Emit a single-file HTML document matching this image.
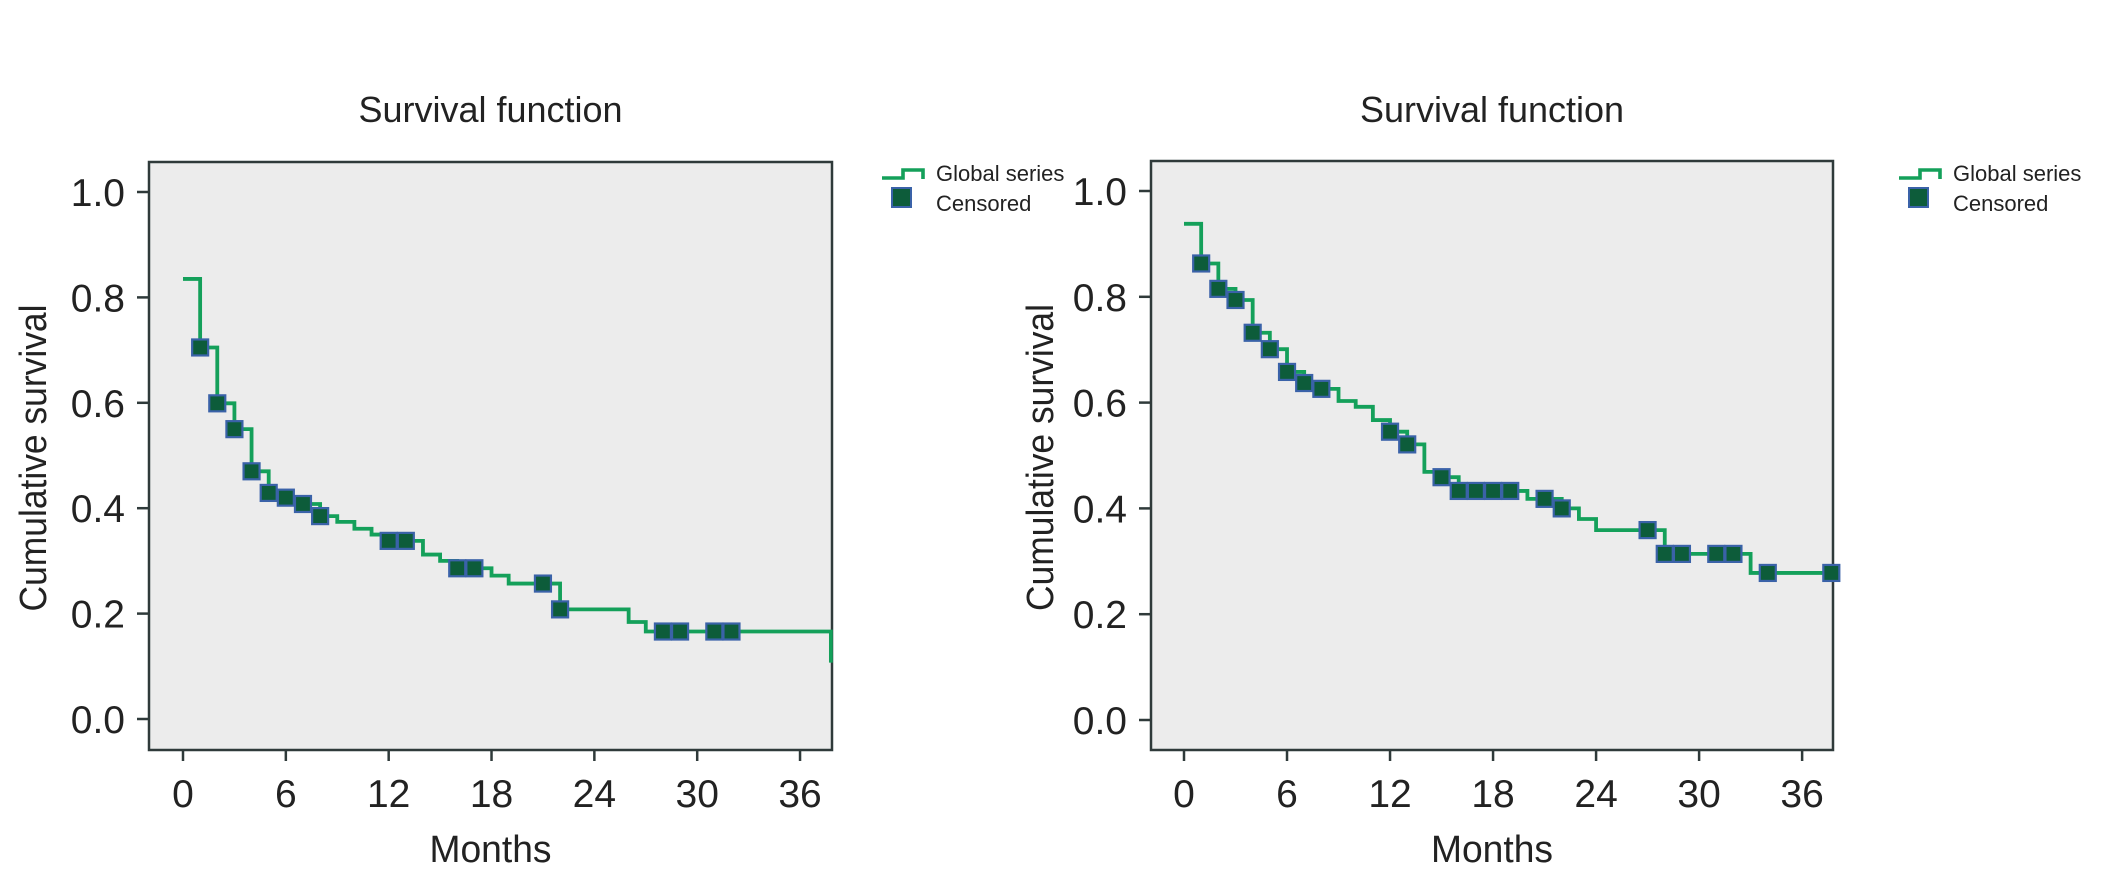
<!DOCTYPE html>
<html><head><meta charset="utf-8"><style>
html,body{margin:0;padding:0;background:#fff;}
svg{display:block;font-family:"Liberation Sans",sans-serif;}
</style></head><body>
<svg id="chart" width="2107" height="884" viewBox="0 0 2107 884" xmlns="http://www.w3.org/2000/svg"></svg>
<script>
// Left panel data
const leftStepTimes = [0,1,2,3,4,5,6,7,8,9,10,11,12,14,15,16,18,19,22,26,27,37.8];
const leftStepSurv  = [0.835,0.705,0.599,0.55,0.47,0.429,0.42,0.408,0.385,0.374,0.361,0.35,0.338,0.312,0.30,0.286,0.272,0.257,0.208,0.184,0.166,0.107];
const leftCensorTimes = [1,2,3,4,5,6,7,8,12,13,16,17,21,22,28,29,31,32];
// Right panel data
const rightStepTimes = [0,1,2,3,4,5,6,7,8,9,10,11,12,13,14,15,16,20,22,23,24,28,33];
const rightStepSurv  = [0.938,0.863,0.815,0.794,0.732,0.701,0.658,0.637,0.626,0.603,0.592,0.567,0.545,0.521,0.469,0.459,0.433,0.418,0.40,0.38,0.359,0.314,0.278];
const rightCensorTimes = [1,2,3,4,5,6,7,8,12,13,15,16,17,18,19,21,22,27,28,29,31,32,34,37.7];
const xTickLabels = ["0","6","12","18","24","30","36"];
const xTickValues = [0,6,12,18,24,30,36];
const yTickLabels = ["0.0","0.2","0.4","0.6","0.8","1.0"];
const yTickValues = [0,0.2,0.4,0.6,0.8,1.0];

const NS="http://www.w3.org/2000/svg";
const svg=document.getElementById('chart');
function mk(tag,attrs,parent){const e=document.createElementNS(NS,tag);for(const k in attrs)e.setAttribute(k,attrs[k]);(parent||svg).appendChild(e);return e;}

function survAt(times,surv,t){let s=surv[0];for(let i=0;i<times.length;i++){if(times[i]<=t)s=surv[i];}return s;}

function panel(cfg){
  const g=mk('g',{});
  
  
  const X=t=>cfg.x0+t*cfg.pxm;
  const Y=v=>cfg.y0-v*cfg.pxv;
  const bg=mk('rect',{x:cfg.fl,y:cfg.ft,width:cfg.fr-cfg.fl,height:cfg.fb-cfg.ft,fill:'#ececec',stroke:'#2f3a3a','stroke-width':2.5},g);
  
  
  const tt=mk('text',{x:(cfg.fl+cfg.fr)/2,y:122,'text-anchor':'middle','font-size':36,fill:'#222',textLength:264,lengthAdjust:'spacingAndGlyphs'},g);
  tt.textContent='Survival function';
  
  
  yTickValues.forEach((v,i)=>{
    const y=Y(v);
    const tk=mk('line',{x1:cfg.fl-12,x2:cfg.fl,y1:y,y2:y,stroke:'#2f3a3a','stroke-width':2.5},g);
    
    
    const lb=mk('text',{x:cfg.fl-24,y:y+14,'text-anchor':'end','font-size':39,fill:'#222'},g);
    lb.textContent=yTickLabels[i];
    
    
  });
  xTickValues.forEach((t,i)=>{
    const x=X(t);
    const tk=mk('line',{x1:x,x2:x,y1:cfg.fb,y2:cfg.fb+11,stroke:'#2f3a3a','stroke-width':2.5},g);
    
    
    const lb=mk('text',{x:x,y:807,'text-anchor':'middle','font-size':39,fill:'#222'},g);
    lb.textContent=xTickLabels[i];
    
    
  });
  const xl=mk('text',{x:(cfg.fl+cfg.fr)/2,y:862,'text-anchor':'middle','font-size':38,fill:'#222',textLength:122,lengthAdjust:'spacingAndGlyphs'},g);
  xl.textContent='Months';
  
  
  const yc=(cfg.ft+cfg.fb)/2+2;
  const yl=mk('text',{x:cfg.ylx,y:yc,'text-anchor':'middle','font-size':38,fill:'#222',transform:`rotate(-90 ${cfg.ylx} ${yc})`,textLength:307,lengthAdjust:'spacingAndGlyphs'},g);
  yl.textContent='Cumulative survival';
  
  
  const T=cfg.times,S=cfg.surv;
  let d=`M${X(T[0])},${Y(S[0])}`;
  for(let i=1;i<T.length;i++){d+=` H${X(T[i])} V${Y(S[i])}`;}
  if(T[T.length-1]<cfg.tmax)d+=` H${X(cfg.tmax)}`;
  const p=mk('path',{d:d,fill:'none',stroke:'#14a05a','stroke-width':3.8},g);
  
  
  cfg.cens.forEach(t=>{
    const s=survAt(T,S,t);
    const r=mk('rect',{x:X(t)-8,y:Y(s)-8,width:16,height:16,fill:'#0d5c3a',stroke:'#3a62a8','stroke-width':2.2},g);
    
    
  });
  const lg=mk('g',{},g);
  
  
  const lx=cfg.lgx;
  const ll=mk('path',{d:`M${lx},178 H${lx+21} V170 H${lx+41} V179`,fill:'none',stroke:'#14a05a','stroke-width':3.6},lg);
  
  
  const t1=mk('text',{x:lx+54,y:181,'font-size':22,fill:'#222'},lg);
  t1.textContent='Global series';
  
  
  const sq=mk('rect',{x:lx+10,y:188,width:19,height:19,fill:'#0d5c3a',stroke:'#3a62a8','stroke-width':2},lg);
  
  
  const t2=mk('text',{x:lx+54,y:211,'font-size':22,fill:'#222'},lg);
  t2.textContent='Censored';
  
  
}
panel({name:'left-chart',fl:149,fr:832,ft:162,fb:750,x0:183,pxm:17.14,y0:719,pxv:527,times:leftStepTimes,surv:leftStepSurv,cens:leftCensorTimes,tmax:37.8,ylx:46,lgx:882});
panel({name:'right-chart',fl:1151,fr:1833,ft:161,fb:750,x0:1184,pxm:17.17,y0:720,pxv:529,times:rightStepTimes,surv:rightStepSurv,cens:rightCensorTimes,tmax:37.8,ylx:1053,lgx:1899});
</script>
</body></html>
